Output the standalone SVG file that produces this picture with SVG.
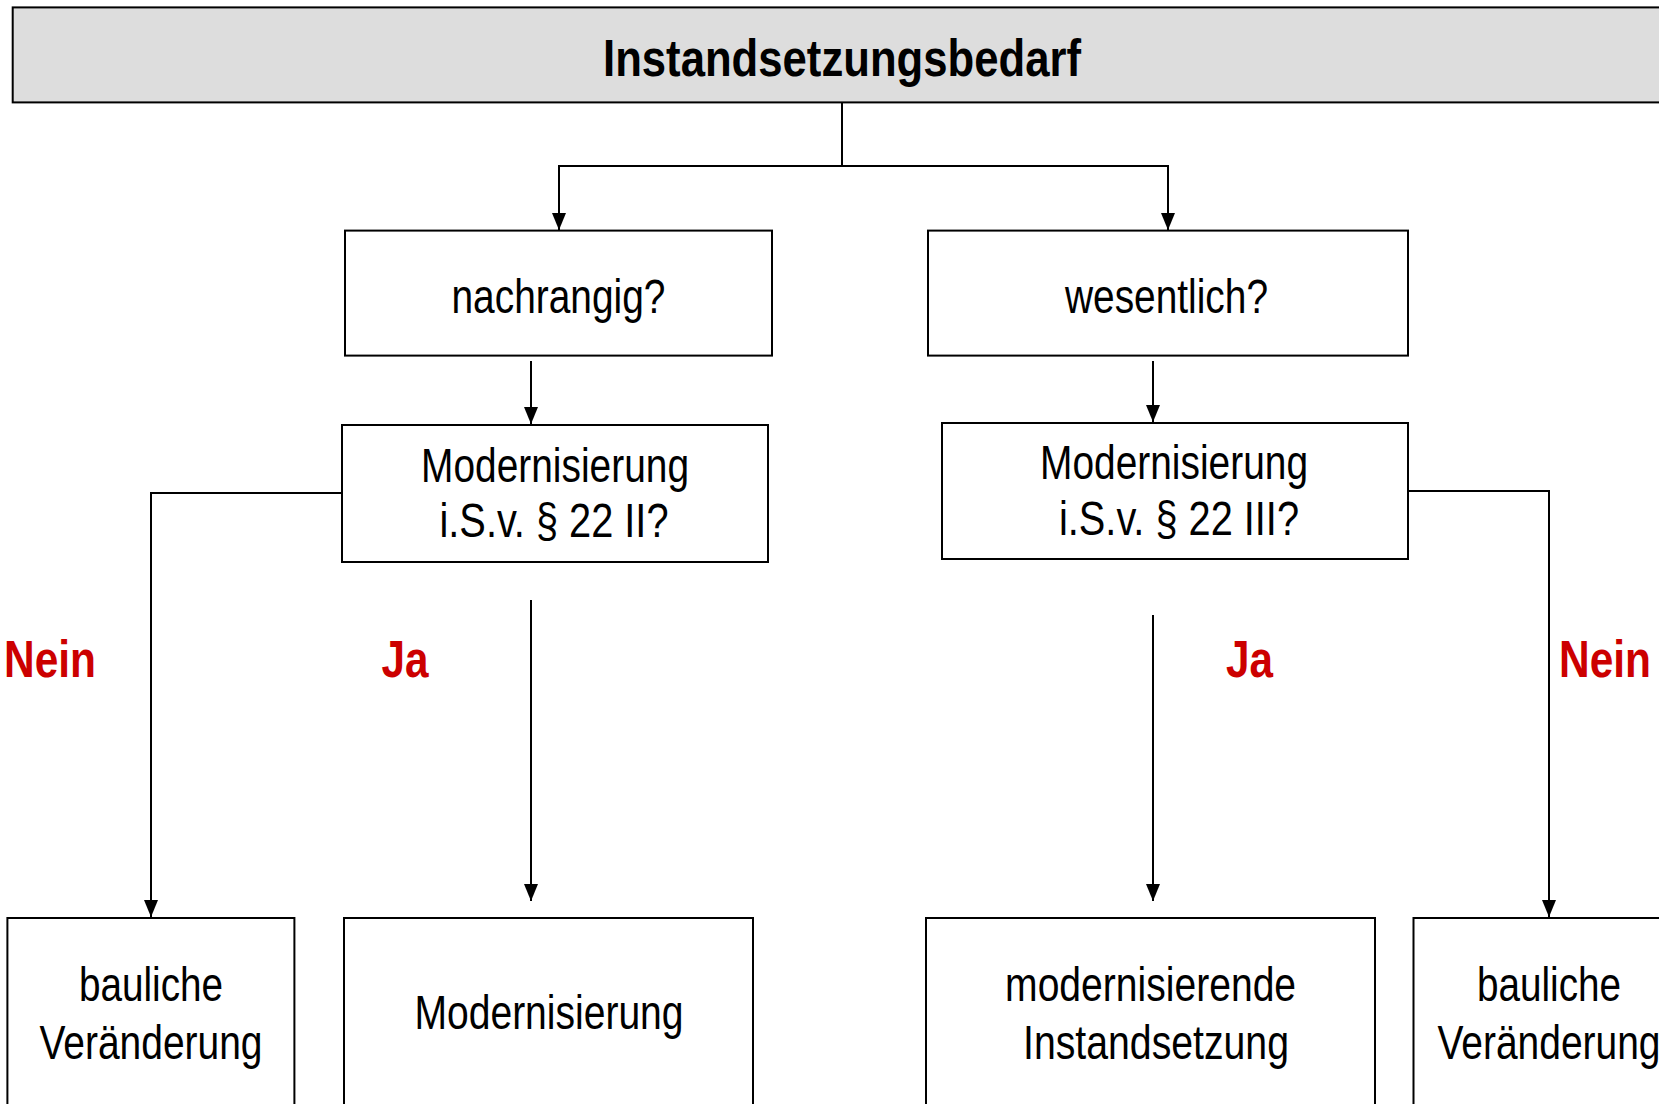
<svg xmlns="http://www.w3.org/2000/svg" width="1659" height="1104" viewBox="0 0 1659 1104">
<style>
.box{fill:#fff;stroke:#000;stroke-width:2}
.top{fill:#dddddd;stroke:#000;stroke-width:2}
.t{font-family:"Liberation Sans",Arial,sans-serif;font-size:48px;fill:#000;text-anchor:middle}
.tb{font-family:"Liberation Sans",Arial,sans-serif;font-size:52px;font-weight:bold;fill:#000;text-anchor:middle}
.lbl{font-family:"Liberation Sans",Arial,sans-serif;font-size:52px;font-weight:bold;fill:#cc0000;text-anchor:middle}
.c{fill:none;stroke:#000;stroke-width:2}
</style>
<defs>
<marker id="ah" viewBox="0 0 17 14" markerWidth="17" markerHeight="14" refX="17" refY="7" orient="auto" markerUnits="userSpaceOnUse">
<path d="M0,0 L17,7 L0,14 z" fill="#000"/>
</marker>
</defs>
<rect width="1659" height="1104" fill="#fff"/>
<g id="connectors">
<path class="c" d="M842,103 V166 H559 V230" marker-end="url(#ah)"/>
<path class="c" d="M842,166 H1168 V230" marker-end="url(#ah)"/>
<path class="c" d="M531,361 V424" marker-end="url(#ah)"/>
<path class="c" d="M1153,361 V422" marker-end="url(#ah)"/>
<path class="c" d="M342,493 H151 V917" marker-end="url(#ah)"/>
<path class="c" d="M531,600 V901" marker-end="url(#ah)"/>
<path class="c" d="M1153,615 V901" marker-end="url(#ah)"/>
<path class="c" d="M1408,491 H1549 V917" marker-end="url(#ah)"/>
</g>
<g id="n-title">
<rect class="top" x="12.7" y="7.4" width="1680" height="95"/>
<text class="tb" x="842" y="76" textLength="478" lengthAdjust="spacingAndGlyphs">Instandsetzungsbedarf</text>
</g>
<g id="n-nachrangig">
<rect class="box" x="345" y="230.6" width="427" height="125"/>
<text class="t" x="558.5" y="313" textLength="214" lengthAdjust="spacingAndGlyphs">nachrangig?</text>
</g>
<g id="n-wesentlich">
<rect class="box" x="928" y="230.6" width="480" height="125"/>
<text class="t" x="1166.5" y="313" textLength="203" lengthAdjust="spacingAndGlyphs">wesentlich?</text>
</g>
<g id="n-mod2">
<rect class="box" x="342" y="425" width="426" height="137"/>
<text class="t" x="555" y="482" textLength="268" lengthAdjust="spacingAndGlyphs">Modernisierung</text>
<text class="t" x="554" y="537" textLength="229" lengthAdjust="spacingAndGlyphs">i.S.v. § 22 II?</text>
</g>
<g id="n-mod3">
<rect class="box" x="942" y="423" width="466" height="136"/>
<text class="t" x="1174" y="479" textLength="268" lengthAdjust="spacingAndGlyphs">Modernisierung</text>
<text class="t" x="1179" y="535" textLength="240" lengthAdjust="spacingAndGlyphs">i.S.v. § 22 III?</text>
</g>
<g id="n-bau1">
<rect class="box" x="7.4" y="918" width="287" height="220"/>
<text class="t" x="151" y="1001" textLength="144" lengthAdjust="spacingAndGlyphs">bauliche</text>
<text class="t" x="151" y="1059" textLength="223" lengthAdjust="spacingAndGlyphs">Veränderung</text>
</g>
<g id="n-mod">
<rect class="box" x="344" y="918" width="409" height="220"/>
<text class="t" x="549" y="1029" textLength="269" lengthAdjust="spacingAndGlyphs">Modernisierung</text>
</g>
<g id="n-modinst">
<rect class="box" x="926" y="918" width="449" height="220"/>
<text class="t" x="1150.6" y="1001" textLength="291" lengthAdjust="spacingAndGlyphs">modernisierende</text>
<text class="t" x="1156" y="1059" textLength="266" lengthAdjust="spacingAndGlyphs">Instandsetzung</text>
</g>
<g id="n-bau2">
<rect class="box" x="1413.5" y="918" width="300" height="220"/>
<text class="t" x="1549" y="1001" textLength="144" lengthAdjust="spacingAndGlyphs">bauliche</text>
<text class="t" x="1549" y="1059" textLength="223" lengthAdjust="spacingAndGlyphs">Veränderung</text>
</g>
<g id="labels">
<text class="lbl" x="50" y="677" textLength="92" lengthAdjust="spacingAndGlyphs">Nein</text>
<text class="lbl" x="405" y="677" textLength="47" lengthAdjust="spacingAndGlyphs">Ja</text>
<text class="lbl" x="1249.5" y="677" textLength="47" lengthAdjust="spacingAndGlyphs">Ja</text>
<text class="lbl" x="1605" y="677" textLength="92" lengthAdjust="spacingAndGlyphs">Nein</text>
</g>
</svg>
